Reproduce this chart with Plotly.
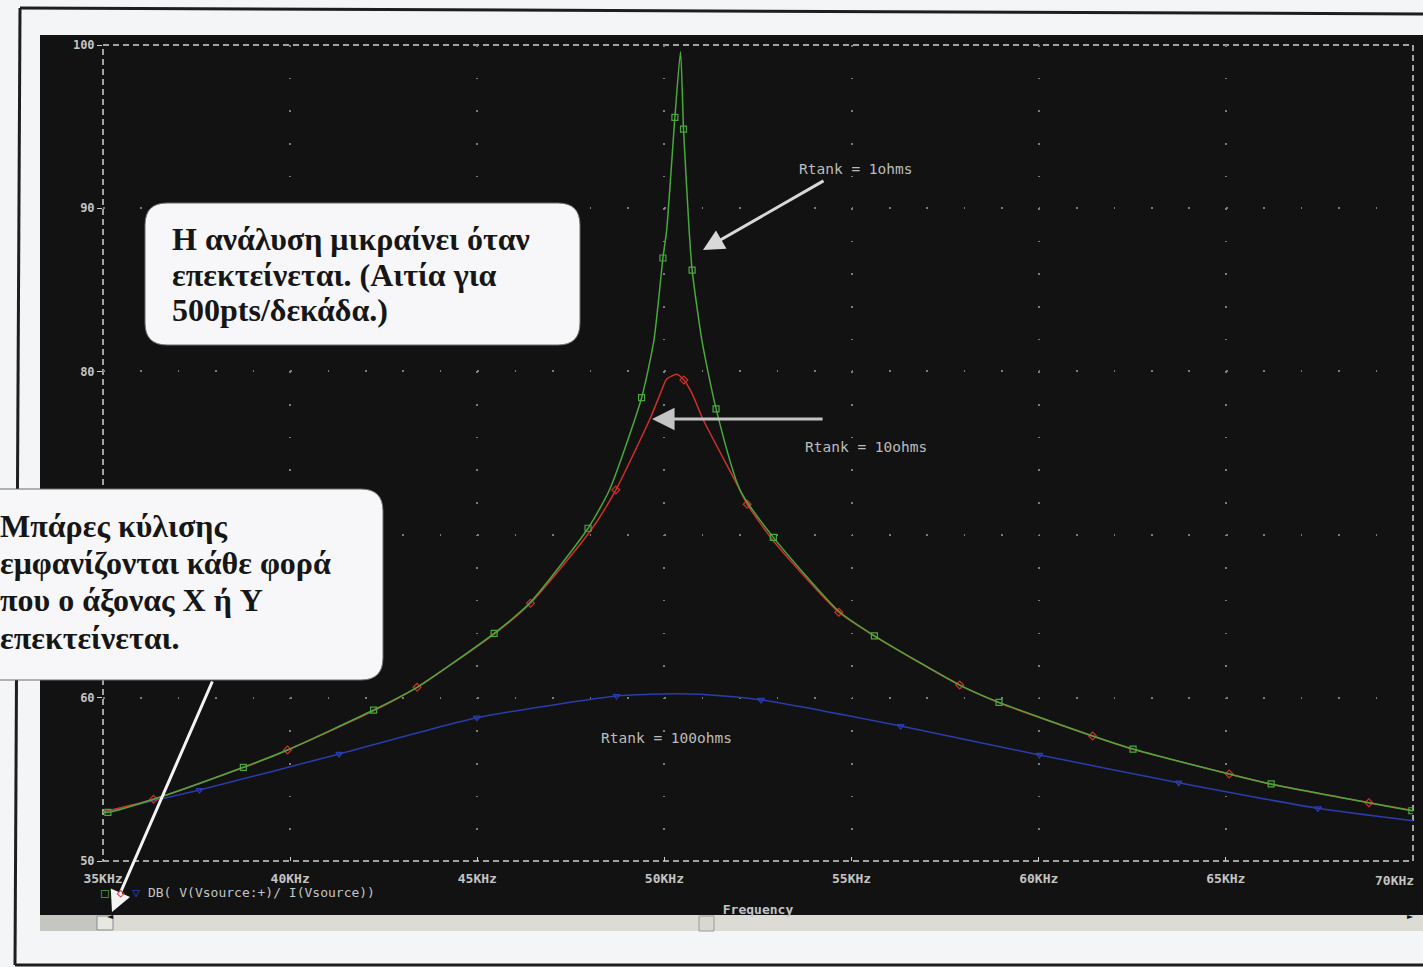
import plotly.graph_objects as go

# ---- AC sweep: DB( V(Vsource:+)/ I(Vsource) ) vs frequency (kHz) ----
# Rtank = 1 ohm (green, square markers)
freq_1ohm = [35.00, 35.13, 36.35, 38.75, 39.93, 42.23, 43.39, 45.45, 46.42, 47.96,
             48.53, 49.39, 49.72, 49.96, 50.06, 50.28, 50.43, 50.51, 50.66, 50.74,
             51.00, 51.38, 52.02, 52.91, 54.66, 55.61, 57.89, 58.94, 61.44, 62.52,
             65.09, 66.21, 68.82, 69.97, 70.00]
db_1ohm = [53.00, 52.98, 53.78, 55.74, 56.80, 59.25, 60.64, 63.95, 65.85, 70.39,
           72.73, 78.39, 81.92, 86.95, 88.66, 95.57, 99.59, 94.85, 88.66, 86.21,
           81.92, 77.70, 72.73, 69.83, 65.30, 63.80, 60.78, 59.72, 57.66, 56.86,
           55.33, 54.72, 53.57, 53.08, 53.06]
mark_1ohm = [1, 3, 5, 7, 9, 11, 13, 15, 17, 19, 21, 23, 25, 27, 29, 31, 33]

# Rtank = 10 ohms (red, diamond markers)
freq_10ohm = [35.00, 36.35, 38.75, 39.93, 42.23, 43.39, 45.45, 46.42, 48.04, 48.70,
              49.60, 49.93, 50.06, 50.33, 50.52, 50.73, 51.04, 52.02, 52.21, 52.89,
              54.66, 55.61, 57.89, 58.94, 61.44, 62.52, 65.09, 66.21, 68.82, 70.00]
db_10ohm = [53.00, 53.78, 55.72, 56.80, 59.20, 60.64, 63.90, 65.79, 70.28, 72.73,
            77.02, 78.86, 79.53, 79.82, 79.47, 78.68, 77.02, 72.73, 71.86, 69.67,
            65.24, 63.78, 60.78, 59.70, 57.66, 56.84, 55.33, 54.70, 53.57, 53.10]
mark_10ohm = [1, 3, 5, 7, 9, 14, 18, 20, 22, 24, 26, 28]

# Rtank = 100 ohms (blue, down-triangle markers)
freq_100ohm = [35.00, 37.58, 41.31, 44.99, 48.72, 49.61, 50.30, 50.95, 52.58, 56.31,
               60.02, 63.74, 67.46, 70.00]
db_100ohm = [53.00, 54.35, 56.56, 58.78, 60.11, 60.21, 60.25, 60.21, 59.87, 58.27,
             56.50, 54.80, 53.23, 52.47]
mark_100ohm = [1, 2, 3, 4, 8, 9, 10, 11, 12]

tick_freqs = [35, 40, 45, 50, 55, 60, 65]
tick_labels = ["35KHz", "40KHz", "45KHz", "50KHz", "55KHz", "60KHz", "65KHz"]
end_label = "70KHz"
db_ticks = [50, 60, 70, 80, 90, 100]
db_tick_text = ["50", "60", "", "80", "90", "100"]   # 70 sits under the call-out

curve_labels = ["Rtank = 1ohms", "Rtank = 10ohms", "Rtank = 100ohms"]
trace_expr = "DB( V(Vsource:+)/ I(Vsource))"
x_title = "Frequency"
note_resolution = ["Η ανάλυση μικραίνει όταν",
                   "επεκτείνεται. (Αιτία για",
                   "500pts/δεκάδα.)"]
note_scrollbars = ["Μπάρες κύλισης",
                   "εμφανίζονται κάθε φορά",
                   "που ο άξονας X ή Y",
                   "επεκτείνεται."]

# ---- page geometry ----
W, H = 1423, 967
ML, MR, MT, MB = 103, 10, 45, 106
PW = W - ML - MR
PH = H - MT - MB


def px(x):
    return (x - ML) / PW


def py(y):
    return (H - MB - y) / PH


GREEN = "#4aa83c"
RED = "#d0302a"
BLUE = "#2b3cac"
TXT = "#c4c4c4"
MONO = "DejaVu Sans Mono"
SERIF = "Liberation Serif"

fig = go.Figure()

series = [
    (freq_1ohm, db_1ohm, mark_1ohm, GREEN, "square-open"),
    (freq_10ohm, db_10ohm, mark_10ohm, RED, "diamond-open"),
    (freq_100ohm, db_100ohm, mark_100ohm, BLUE, "triangle-down-open"),
]
# draw the wide curves first so the green peak sits on top
for f, d, m, col, sym in [series[2], series[1], series[0]]:
    fig.add_trace(go.Scatter(
        x=f, y=d, mode="lines",
        line=dict(color=col, width=1.5, shape="spline", smoothing=0.6),
        hoverinfo="skip", showlegend=False))
    fig.add_trace(go.Scatter(
        x=[f[i] for i in m], y=[d[i] for i in m], mode="markers",
        marker=dict(symbol=sym, size=6, color=col, line=dict(width=1.2, color=col)),
        hoverinfo="skip", showlegend=False))


def rounded_box(x0, y0, x1, y1, r):
    X0, X1 = px(x0), px(x1)
    Y0, Y1 = py(y0), py(y1)
    rx = r / PW
    ry = r / PH
    return (f"M {X0 + rx},{Y0} L {X1 - rx},{Y0} Q {X1},{Y0} {X1},{Y0 - ry} "
            f"L {X1},{Y1 + ry} Q {X1},{Y1} {X1 - rx},{Y1} "
            f"L {X0 + rx},{Y1} Q {X0},{Y1} {X0},{Y1 + ry} "
            f"L {X0},{Y0 - ry} Q {X0},{Y0} {X0 + rx},{Y0} Z")


shapes = [
    # dark probe window
    dict(type="rect", xref="paper", yref="paper", layer="below",
         x0=px(40), x1=px(W + 5), y0=py(915), y1=py(35),
         fillcolor="#121212", line=dict(width=0)),
    # dashed plot frame
    dict(type="rect", xref="paper", yref="paper", layer="below",
         x0=0, x1=1, y0=0, y1=1,
         line=dict(color="#d2d2d2", width=1.5, dash="6px,4px")),
    # scroll bar
    dict(type="rect", xref="paper", yref="paper", layer="below",
         x0=px(40), x1=px(W + 5), y0=py(931), y1=py(915),
         fillcolor="#dcdcd4", line=dict(width=0)),
    dict(type="rect", xref="paper", yref="paper", layer="below",
         x0=px(40), x1=px(97), y0=py(931), y1=py(915),
         fillcolor="#c6c6c0", line=dict(width=0)),
    dict(type="rect", xref="paper", yref="paper", layer="below",
         x0=px(97), x1=px(113), y0=py(930), y1=py(916),
         fillcolor="#e8e8e2", line=dict(color="#8a8a8a", width=1)),
    dict(type="rect", xref="paper", yref="paper", layer="below",
         x0=px(699), x1=px(714), y0=py(931), y1=py(916),
         fillcolor="#d8d8d0", line=dict(color="#9a9a9a", width=1)),
    # outer page frame
    dict(type="line", xref="paper", yref="paper", layer="below",
         x0=px(20), y0=py(8), x1=px(W + 5), y1=py(14),
         line=dict(color="#1e1e1e", width=3)),
    dict(type="line", xref="paper", yref="paper", layer="below",
         x0=px(20), y0=py(8), x1=px(15), y1=py(965),
         line=dict(color="#1e1e1e", width=3)),
    dict(type="line", xref="paper", yref="paper", layer="below",
         x0=px(15), y0=py(965), x1=px(W + 5), y1=py(965),
         line=dict(color="#1e1e1e", width=3)),
    # call-out boxes
    dict(type="path", xref="paper", yref="paper", layer="above",
         path=rounded_box(145, 203, 580, 345, 22),
         fillcolor="#f7f7f9", line=dict(color="#6a6a6a", width=1)),
    dict(type="path", xref="paper", yref="paper", layer="above",
         path=rounded_box(-30, 489, 383, 680, 22),
         fillcolor="#f7f7f9", line=dict(color="#6a6a6a", width=1)),
]

annotations = []

# call-out texts, one annotation per line for tight line spacing
for i, line in enumerate(note_resolution):
    annotations.append(dict(
        xref="paper", yref="paper", x=px(170), y=py(239 + 35.5 * i),
        xanchor="left", yanchor="middle", showarrow=False, text=f"<b>{line}</b>",
        font=dict(family=SERIF, size=32, color="#161616")))
for i, line in enumerate(note_scrollbars):
    annotations.append(dict(
        xref="paper", yref="paper", x=px(-2), y=py(526 + 37.2 * i),
        xanchor="left", yanchor="middle", showarrow=False, text=f"<b>{line}</b>",
        font=dict(family=SERIF, size=32, color="#161616")))

annotations += [
    # curve labels
    dict(x=53.54, y=92.4, xanchor="left", yanchor="middle", showarrow=False,
         text=curve_labels[0], font=dict(family=MONO, size=14.5, color="#bcbcbc")),
    dict(x=53.70, y=75.37, xanchor="left", yanchor="middle", showarrow=False,
         text=curve_labels[1], font=dict(family=MONO, size=14.5, color="#bcbcbc")),
    dict(x=48.25, y=57.54, xanchor="left", yanchor="middle", showarrow=False,
         text=curve_labels[2], font=dict(family=MONO, size=14.5, color="#bcbcbc")),
    # pointer arrows
    dict(x=51.03, y=87.44, ax=122, ay=-70, text="", showarrow=True,
         arrowhead=2, arrowsize=1.4, arrowwidth=3, arrowcolor="#d8d8d8"),
    dict(x=49.67, y=77.08, ax=172, ay=0, text="", showarrow=True,
         arrowhead=2, arrowsize=1.5, arrowwidth=3, arrowcolor="#c4c4c4"),
    dict(xref="paper", yref="paper", x=px(112), y=py(912), ax=101, ay=-232, text="",
         showarrow=True, arrowhead=2, arrowsize=1.4, arrowwidth=3, arrowcolor="#f4f4f4"),
    # trace legend
    dict(xref="paper", yref="paper", x=px(99), y=py(892), xanchor="left", yanchor="middle",
         showarrow=False, align="left",
         text=(f"<span style='color:{GREEN}'>□</span> <span style='color:{RED}'>◇</span> "
               f"<span style='color:{BLUE}'>▽</span> {trace_expr}"),
         font=dict(family=MONO, size=13, color=TXT)),
    # right-hand axis end label
    dict(xref="paper", yref="paper", x=px(1416), y=py(881), xanchor="right", yanchor="middle",
         showarrow=False, text=f"<b>{end_label}</b>",
         font=dict(family=MONO, size=13, color=TXT)),
    # scroll bar buttons
    dict(xref="paper", yref="paper", x=px(105), y=py(923), showarrow=False,
         text="◄", font=dict(family="DejaVu Sans", size=8, color="#111111")),
    dict(xref="paper", yref="paper", x=px(1416), y=py(923), showarrow=False,
         text="►", font=dict(family="DejaVu Sans", size=8, color="#111111")),
]

fig.update_layout(
    width=W, height=H, autosize=False,
    margin=dict(l=ML, r=MR, t=MT, b=MB, pad=0),
    paper_bgcolor="#f4f5f7",
    plot_bgcolor="rgba(0,0,0,0)",
    shapes=shapes,
    annotations=annotations,
    showlegend=False,
    xaxis=dict(
        range=[35, 70], tickvals=tick_freqs, ticktext=tick_labels,
        ticks="inside", ticklen=4, tickcolor="#cfcfcf", tickwidth=1,
        ticklabelstandoff=8,
        tickfont=dict(family=MONO, size=13, color=TXT, weight="bold"),
        showgrid=True, gridcolor="#7c7c7c", gridwidth=1.6, griddash="1.6px,31.04px",
        zeroline=False, showline=False, fixedrange=True,
        title=dict(text=x_title, standoff=19,
                   font=dict(family=MONO, size=13, color=TXT, weight="bold")),
    ),
    yaxis=dict(
        range=[50, 100], tickvals=db_ticks, ticktext=db_tick_text,
        ticks="outside", ticklen=5, tickcolor="#cfcfcf", tickwidth=1,
        tickfont=dict(family=MONO, size=12, color=TXT, weight="bold"),
        showgrid=True, gridcolor="#7c7c7c", gridwidth=1.6, griddash="1.6px,35.83px",
        zeroline=False, showline=False, fixedrange=True,
    ),
)

fig.write_html("out.html")
